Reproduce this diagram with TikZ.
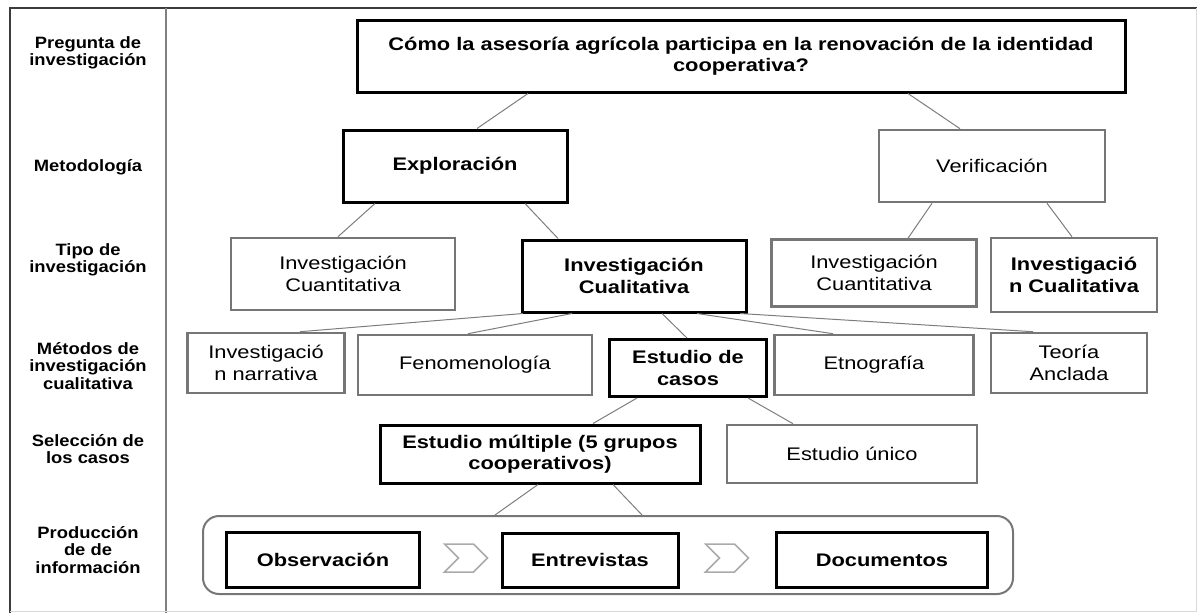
\documentclass[tikz,border=0pt]{standalone}
\usepackage{fontspec}
\setmainfont{Liberation Sans}[FakeStretch=1.2]
\newfontfamily\rowfont{Liberation Sans}[FakeStretch=1.12]
\usetikzlibrary{shapes.symbols}
\definecolor{boxgrey}{RGB}{118,118,118}
\definecolor{linkgrey}{RGB}{125,125,125}
\definecolor{chevgrey}{RGB}{170,170,170}
\definecolor{framegrey}{RGB}{60,60,60}

\tikzset{
  darkbox/.style={draw=black, line width=3pt, align=center, inner sep=0pt,
    font=\bfseries\fontsize{18.2}{21.5}\selectfont},
  greybox/.style={draw=boxgrey, line width=2.6pt, align=center, inner sep=0pt,
    font=\fontsize{18.2}{21.5}\selectfont},
  rowlabel/.style={align=center, font=\rowfont\bfseries\fontsize{16.4}{17.5}\selectfont},
  link/.style={draw=linkgrey, line width=1pt},
  chevron/.style={signal, signal from=west, signal to=east, draw=chevgrey,
    line width=1.5pt, minimum width=43pt, minimum height=28pt, inner sep=0pt}
}

\begin{document}
\begin{tikzpicture}[x=1pt, y=-1pt]
    \useasboundingbox (0,0) rectangle (1197,613);
    % frame and row labels
    \draw[line width=2.5pt, framegrey] (1197,8) -- (10,8) -- (10,613);
    \draw[line width=1.2pt, gray] (166,8) -- (166,613);
    \draw[line width=0.8pt, black!15] (1196,8) -- (1196,611) -- (10,611);
    \node[rowlabel] (lpreg) at (88,53) {Pregunta de\\investigación};
    \node[rowlabel] (lmet) at (88,167) {Metodología};
    \node[rowlabel] (ltipo) at (88,260) {Tipo de\\investigación};
    \node[rowlabel] (lmetodos) at (88,366) {Métodos de\\investigación\\cualitativa};
    \node[rowlabel] (lsel) at (88,449) {Selección de\\los casos};
    \node[rowlabel] (lprod) at (88,550) {Producción\\de de\\información};

    % tree
    \node[darkbox, minimum width=768, minimum height=72] (q) at (741,56)
        {Cómo la asesoría agrícola participa en la renovación de la identidad\\cooperativa?};
    \node[darkbox, minimum width=224, minimum height=72] (expl) at (455,166) {Exploración};
    \node[greybox, minimum width=226, minimum height=72] (verif) at (992,166) {Verificación};
    \node[greybox, minimum width=224, minimum height=72] (cuan1) at (343,274) {Investigación\\Cuantitativa};
    \node[darkbox, minimum width=224, minimum height=72] (cual1) at (634,276) {Investigación\\Cualitativa};
    \node[greybox, minimum width=205, minimum height=67] (cuan2) at (874,273) {Investigación\\Cuantitativa};
    \node[greybox, minimum width=166, minimum height=74, font=\bfseries\fontsize{18.2}{21.5}\selectfont]
        (cual2) at (1074,275) {Investigació\\n Cualitativa};
    \node[greybox, minimum width=157, minimum height=60] (narr) at (266,363) {Investigació\\n narrativa};
    \node[greybox, minimum width=234, minimum height=60] (feno) at (475,365) {Fenomenología};
    \node[darkbox, minimum width=157, minimum height=57] (casos) at (688,368) {Estudio de\\casos};
    \node[greybox, minimum width=199, minimum height=60] (etno) at (874,365) {Etnografía};
    \node[greybox, minimum width=156, minimum height=60] (teoria) at (1069,363) {Teoría\\Anclada};
    \node[darkbox, minimum width=320, minimum height=58] (mult) at (540,454) {Estudio múltiple (5 grupos\\cooperativos)};
    \node[greybox, minimum width=250, minimum height=58] (unico) at (852,454) {Estudio único};

    % production of information
    \node[draw=boxgrey, line width=2pt, rounded corners=16pt, minimum width=810,
        minimum height=78] (cont) at (608,555) {};
    \node[darkbox, minimum width=193, minimum height=55] (obs) at (323,560) {Observación};
    \node[darkbox, minimum width=176, minimum height=54] (entr) at (590,560) {Entrevistas};
    \node[darkbox, minimum width=211, minimum height=55] (docs) at (882,560) {Documentos};
    \node[chevron] (chev1) at (466,558) {};
    \node[chevron] (chev2) at (727,558) {};

    % connectors
    \draw[link] ([xshift=-213]q.south) -- ([xshift=22]expl.north);
    \draw[link] ([xshift=167]q.south) -- ([xshift=-32]verif.north);
    \draw[link] ([xshift=-80]expl.south) -- ([xshift=-5]cuan1.north);
    \draw[link] ([xshift=70]expl.south) -- ([xshift=-76]cual1.north);
    \draw[link] ([xshift=-60]verif.south) -- ([xshift=34]cuan2.north);
    \draw[link] ([xshift=55]verif.south) -- ([xshift=-2]cual2.north);
    \draw[link] ([xshift=-111]cual1.south) -- ([xshift=34]narr.north);
    \draw[link] ([xshift=-62]cual1.south) -- ([xshift=-7]feno.north);
    \draw[link] ([xshift=28]cual1.south) -- ([xshift=-1]casos.north);
    \draw[link] ([xshift=63]cual1.south) -- ([xshift=-41]etno.north);
    \draw[link] ([xshift=106]cual1.south) -- ([xshift=-36]teoria.north);
    \draw[link] ([xshift=-51]casos.south) -- ([xshift=53]mult.north);
    \draw[link] ([xshift=60]casos.south) -- ([xshift=-59]unico.north);
    \draw[link] ([xshift=-2]mult.south) -- ([xshift=-113]cont.north);
    \draw[link] ([xshift=73]mult.south) -- ([xshift=34]cont.north);
\end{tikzpicture}
\end{document}
